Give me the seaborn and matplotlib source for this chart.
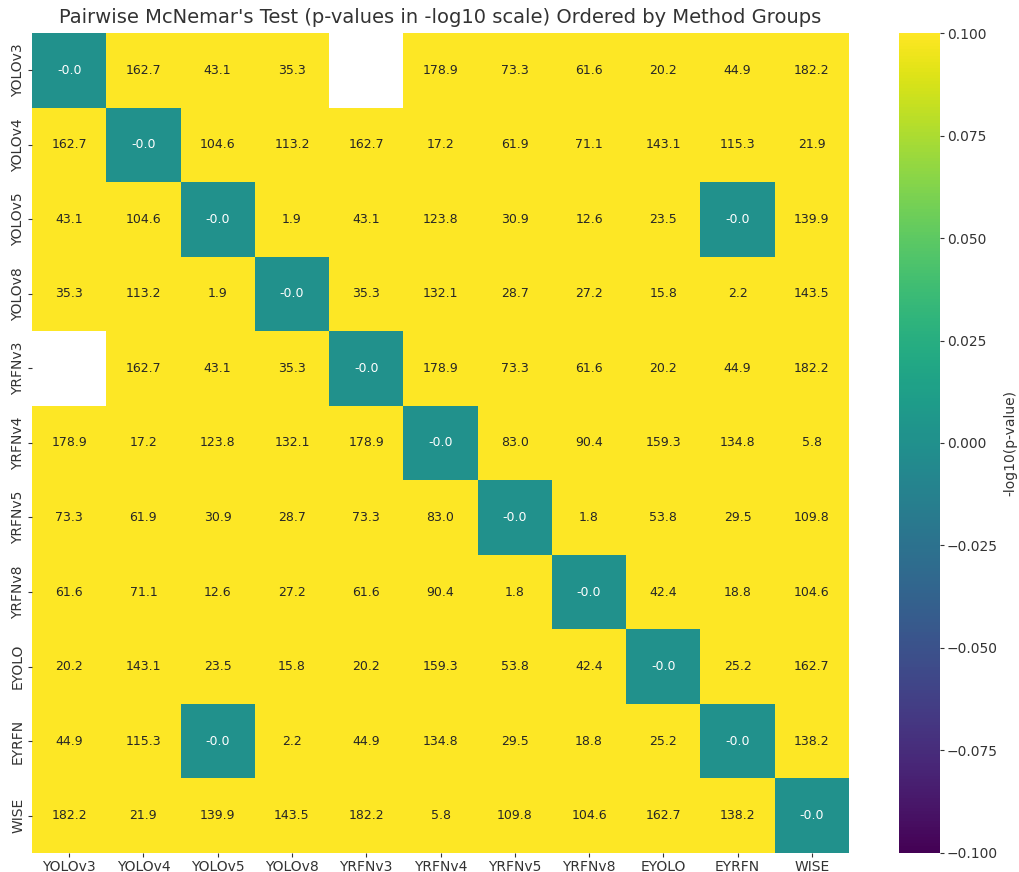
import numpy as np
import pandas as pd
import matplotlib
matplotlib.use("Agg")
import matplotlib.pyplot as plt
import seaborn as sns

# ---- data: -log10(p) of pairwise McNemar tests --------------------------------
methods = ["YOLOv3", "YOLOv4", "YOLOv5", "YOLOv8", "YRFNv3", "YRFNv4",
           "YRFNv5", "YRFNv8", "EYOLO", "EYRFN", "WISE"]

nan = np.nan
row_yolov3 = [-0.0, 162.7, 43.1, 35.3, nan, 178.9, 73.3, 61.6, 20.2, 44.9, 182.2]
row_yolov4 = [162.7, -0.0, 104.6, 113.2, 162.7, 17.2, 61.9, 71.1, 143.1, 115.3, 21.9]
row_yolov5 = [43.1, 104.6, -0.0, 1.9, 43.1, 123.8, 30.9, 12.6, 23.5, -0.0, 139.9]
row_yolov8 = [35.3, 113.2, 1.9, -0.0, 35.3, 132.1, 28.7, 27.2, 15.8, 2.2, 143.5]
row_yrfnv3 = [nan, 162.7, 43.1, 35.3, -0.0, 178.9, 73.3, 61.6, 20.2, 44.9, 182.2]
row_yrfnv4 = [178.9, 17.2, 123.8, 132.1, 178.9, -0.0, 83.0, 90.4, 159.3, 134.8, 5.8]
row_yrfnv5 = [73.3, 61.9, 30.9, 28.7, 73.3, 83.0, -0.0, 1.8, 53.8, 29.5, 109.8]
row_yrfnv8 = [61.6, 71.1, 12.6, 27.2, 61.6, 90.4, 1.8, -0.0, 42.4, 18.8, 104.6]
row_eyolo = [20.2, 143.1, 23.5, 15.8, 20.2, 159.3, 53.8, 42.4, -0.0, 25.2, 162.7]
row_eyrfn = [44.9, 115.3, -0.0, 2.2, 44.9, 134.8, 29.5, 18.8, 25.2, -0.0, 138.2]
row_wise = [182.2, 21.9, 139.9, 143.5, 182.2, 5.8, 109.8, 104.6, 162.7, 138.2, -0.0]

mat = pd.DataFrame([row_yolov3, row_yolov4, row_yolov5, row_yolov8, row_yrfnv3,
                    row_yrfnv4, row_yrfnv5, row_yrfnv8, row_eyolo, row_eyrfn, row_wise],
                   index=methods, columns=methods)

# ---- plot ---------------------------------------------------------------------
plt.rcParams["text.color"] = "#333333"
plt.rcParams["axes.labelcolor"] = "#333333"
plt.rcParams["xtick.color"] = "#333333"
plt.rcParams["ytick.color"] = "#333333"
plt.rcParams["font.family"] = ["DejaVu Sans"]

fig = plt.figure(figsize=(10.19, 8.72), dpi=100)
ax = fig.add_axes([0.0314, 0.022, 0.8018, 0.940])
cax = fig.add_axes([0.882, 0.022, 0.0402, 0.940])

sns.heatmap(mat, ax=ax, cbar_ax=cax, cmap="viridis", vmin=-0.1, vmax=0.1,
            annot=True, fmt=".1f", annot_kws={"fontsize": 9})

ax.set_title("Pairwise McNemar's Test (p-values in -log10 scale) Ordered by Method Groups",
             fontsize=14, pad=7)
ax.set_yticklabels(methods, rotation=90, va="center")
ax.set_xticklabels(methods, rotation=0)
ax.tick_params(labelsize=10, length=3, pad=2)
cax.tick_params(labelsize=10, length=3, pad=2)
cax.set_ylabel("-log10(p-value)", fontsize=10, labelpad=4)

fig.savefig("out.png", dpi=100)
